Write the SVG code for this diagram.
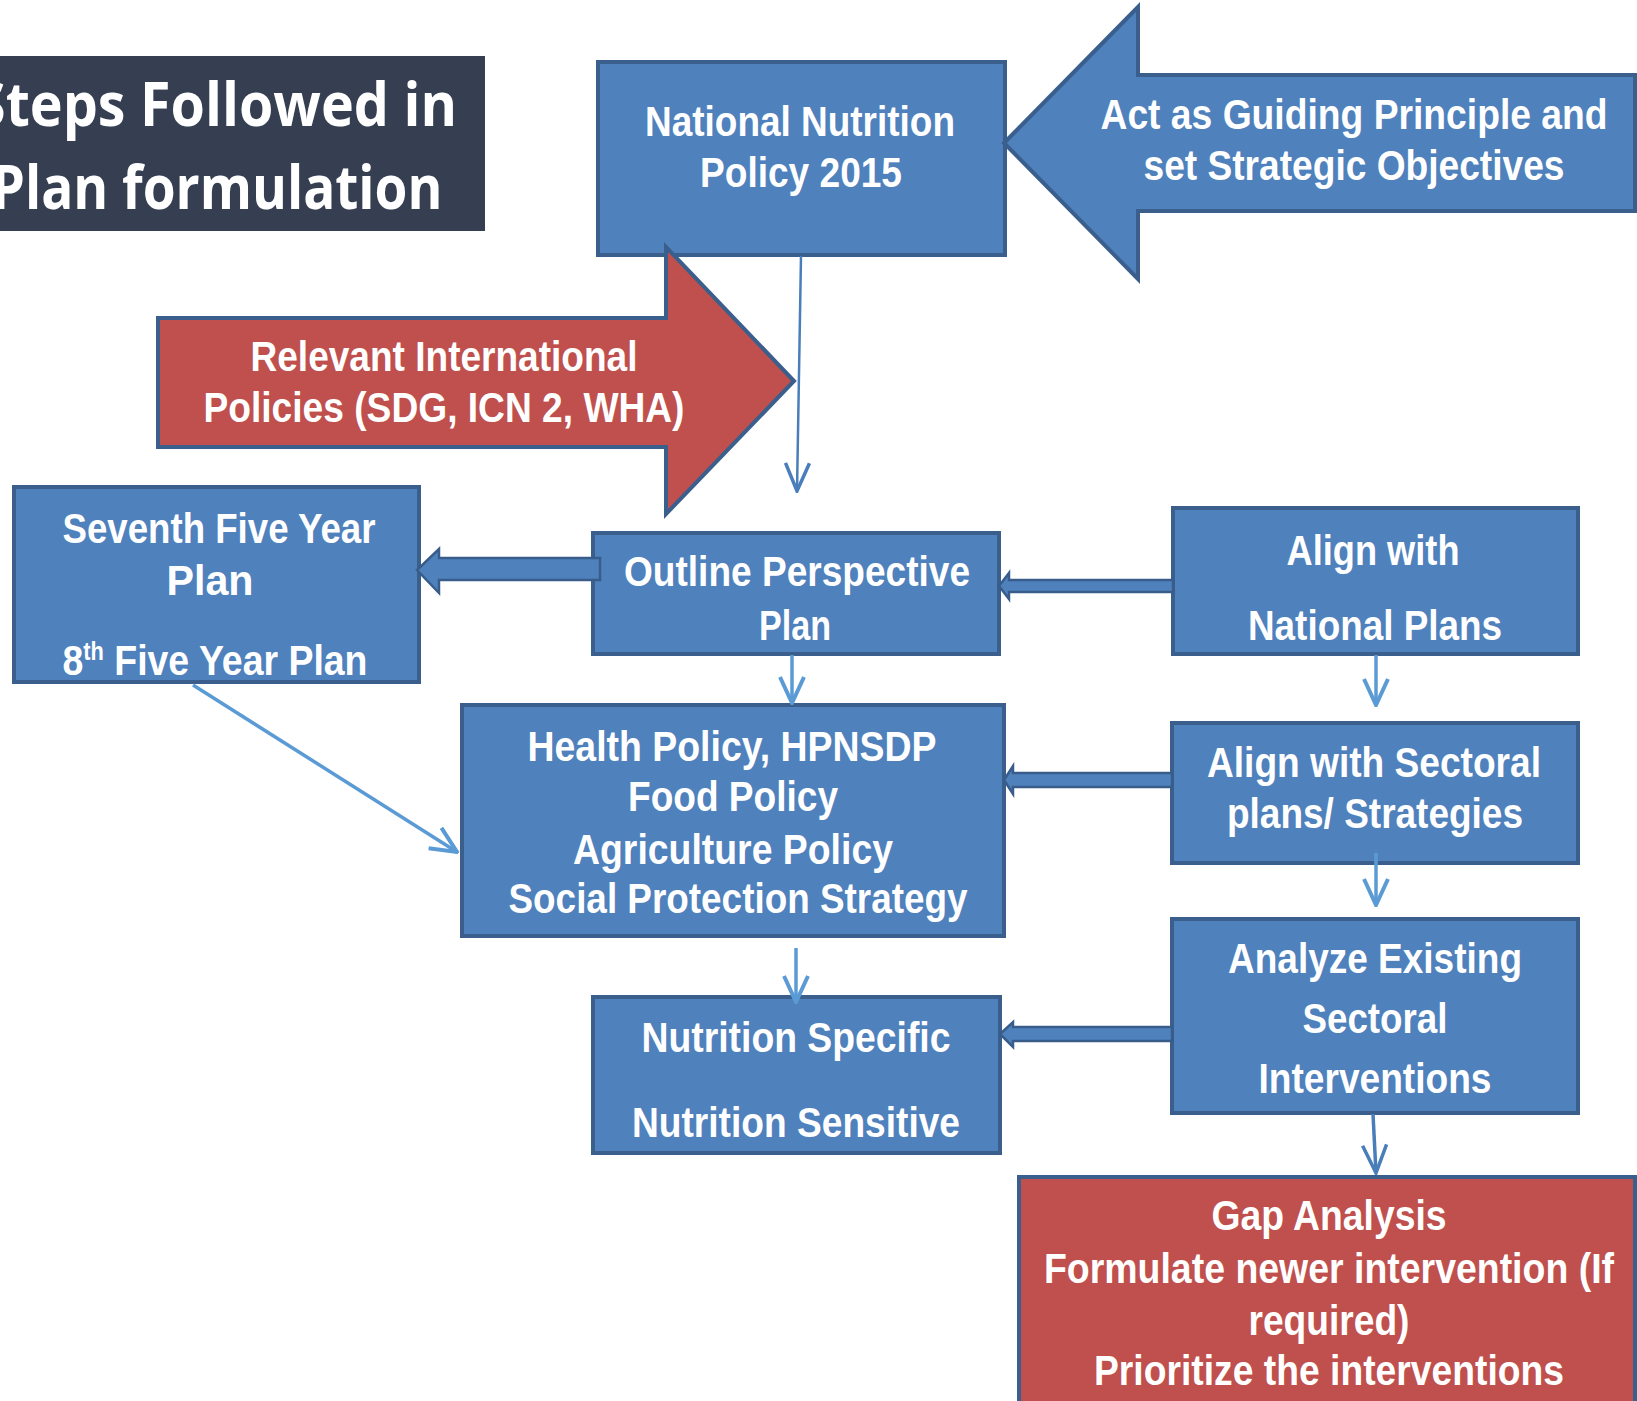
<svg xmlns="http://www.w3.org/2000/svg" width="1637" height="1401" viewBox="0 0 1637 1401">
<defs>
<style>
.box{fill:#4F81BD;stroke:#3A5F8D;stroke-width:4}
.red{fill:#C0504D;stroke:#3A5F8D;stroke-width:4}
.t{font-family:"Liberation Sans",Arial,sans-serif;font-weight:bold;font-size:43px;fill:#FFFFFF;text-anchor:middle}
.title{font-family:"Open Sans","Liberation Sans",sans-serif;font-weight:bold;font-size:60px;fill:#FFFFFF;text-anchor:middle}
.blk{fill:#4F81BD;stroke:#385D8A;stroke-width:2.5;stroke-linejoin:miter}
.ln{fill:none;stroke:#5B9BD5;stroke-width:3.5}
.ln2{fill:none;stroke:#4A7EBB;stroke-width:2.5}
</style>
<marker id="va" markerUnits="userSpaceOnUse" markerWidth="32" markerHeight="32" viewBox="-30 -16 32 32" refX="0" refY="0" orient="auto">
<path d="M-26,-12 L0,0 L-26,12" fill="none" stroke="#5B9BD5" stroke-width="4"/>
</marker>
<marker id="vb" markerUnits="userSpaceOnUse" markerWidth="32" markerHeight="32" viewBox="-30 -16 32 32" refX="0" refY="0" orient="auto">
<path d="M-28,-12 L0,0 L-28,12" fill="none" stroke="#4A7EBB" stroke-width="3.5"/>
</marker>
</defs>
<rect width="1637" height="1401" fill="#FFFFFF"/>

<g id="title">
<rect x="-5" y="56" width="490" height="175" fill="#353F51"/>
<text class="title" x="216" y="126" textLength="482" lengthAdjust="spacingAndGlyphs">Steps Followed in</text>
<text class="title" x="217" y="209" textLength="451" lengthAdjust="spacingAndGlyphs">Plan formulation</text>
</g>

<g id="node-nnp">
<rect class="box" x="598" y="62" width="407" height="193"/>
<text class="t" x="800" y="136" textLength="310" lengthAdjust="spacingAndGlyphs">National Nutrition</text>
<text class="t" x="801" y="187" textLength="202" lengthAdjust="spacingAndGlyphs">Policy 2015</text>
</g>

<g id="node-guiding">
<path class="box" d="M1004,143 L1138,7 L1138,75 L1635,75 L1635,211 L1138,211 L1138,279 Z"/>
<text class="t" x="1354" y="129" textLength="507" lengthAdjust="spacingAndGlyphs">Act as Guiding Principle and</text>
<text class="t" x="1354" y="180" textLength="421" lengthAdjust="spacingAndGlyphs">set Strategic Objectives</text>
</g>

<g id="node-international">
<path class="red" d="M158,318 L666,318 L666,247 L794,381 L666,514 L666,447 L158,447 Z"/>
<text class="t" x="444" y="371" textLength="387" lengthAdjust="spacingAndGlyphs">Relevant International</text>
<text class="t" x="444" y="422" textLength="481" lengthAdjust="spacingAndGlyphs">Policies (SDG, ICN 2, WHA)</text>
</g>

<g id="node-seventh">
<rect class="box" x="14" y="487" width="405" height="195"/>
<text class="t" x="219" y="543" textLength="313" lengthAdjust="spacingAndGlyphs">Seventh Five Year</text>
<text class="t" x="210" y="595" textLength="87" lengthAdjust="spacingAndGlyphs">Plan</text>
<text class="t" x="215" y="675" textLength="305" lengthAdjust="spacingAndGlyphs">8<tspan font-size="25" dy="-15">th</tspan><tspan dy="15"> Five Year Plan</tspan></text>
</g>

<g id="node-outline">
<rect class="box" x="593" y="533" width="406" height="121"/>
<text class="t" x="797" y="586" textLength="346" lengthAdjust="spacingAndGlyphs">Outline Perspective</text>
<text class="t" x="795" y="640" textLength="72" lengthAdjust="spacingAndGlyphs">Plan</text>
</g>

<g id="node-align-national">
<rect class="box" x="1173" y="508" width="405" height="146"/>
<text class="t" x="1373" y="565" textLength="173" lengthAdjust="spacingAndGlyphs">Align with</text>
<text class="t" x="1375" y="640" textLength="254" lengthAdjust="spacingAndGlyphs">National Plans</text>
</g>

<g id="node-health">
<rect class="box" x="462" y="705" width="542" height="231"/>
<text class="t" x="732" y="761" textLength="409" lengthAdjust="spacingAndGlyphs">Health Policy, HPNSDP</text>
<text class="t" x="733" y="811" textLength="210" lengthAdjust="spacingAndGlyphs">Food Policy</text>
<text class="t" x="733" y="864" textLength="320" lengthAdjust="spacingAndGlyphs">Agriculture Policy</text>
<text class="t" x="738" y="913" textLength="459" lengthAdjust="spacingAndGlyphs">Social Protection Strategy</text>
</g>

<g id="node-align-sectoral">
<rect class="box" x="1172" y="723" width="406" height="140"/>
<text class="t" x="1374" y="777" textLength="334" lengthAdjust="spacingAndGlyphs">Align with Sectoral</text>
<text class="t" x="1375" y="828" textLength="296" lengthAdjust="spacingAndGlyphs">plans/ Strategies</text>
</g>

<g id="node-analyze">
<rect class="box" x="1172" y="919" width="406" height="194"/>
<text class="t" x="1375" y="973" textLength="294" lengthAdjust="spacingAndGlyphs">Analyze Existing</text>
<text class="t" x="1375" y="1033" textLength="145" lengthAdjust="spacingAndGlyphs">Sectoral</text>
<text class="t" x="1375" y="1093" textLength="233" lengthAdjust="spacingAndGlyphs">Interventions</text>
</g>

<g id="node-nutrition">
<rect class="box" x="593" y="997" width="407" height="156"/>
<text class="t" x="796" y="1052" textLength="309" lengthAdjust="spacingAndGlyphs">Nutrition Specific</text>
<text class="t" x="796" y="1137" textLength="328" lengthAdjust="spacingAndGlyphs">Nutrition Sensitive</text>
</g>

<g id="node-gap">
<rect class="red" x="1019" y="1177" width="616" height="240"/>
<text class="t" x="1329" y="1230" textLength="235" lengthAdjust="spacingAndGlyphs">Gap Analysis</text>
<text class="t" x="1329" y="1283" textLength="570" lengthAdjust="spacingAndGlyphs">Formulate newer intervention (If</text>
<text class="t" x="1329" y="1335" textLength="161" lengthAdjust="spacingAndGlyphs">required)</text>
<text class="t" x="1329" y="1385" textLength="470" lengthAdjust="spacingAndGlyphs">Prioritize the interventions</text>
</g>

<g id="connectors">
<path class="ln2" d="M801,256 L797,491" marker-end="url(#vb)"/>
<path class="ln" d="M792,655 L792,703" marker-end="url(#va)"/>
<path class="ln" d="M1376,655 L1376,705" marker-end="url(#va)"/>
<path class="ln" d="M1376,853 L1376,905" marker-end="url(#va)"/>
<path class="ln" d="M796,948 L796,1002" marker-end="url(#va)"/>
<path class="ln2" d="M1373,1114 L1376,1173" marker-end="url(#vb)" style="stroke-width:3.5"/>
<path class="ln" d="M193,685 L457,852" marker-end="url(#va)"/>
<path class="blk" d="M600,558 L439,558 L439,549 L417,570 L439,593 L439,580 L600,580 Z"/>
<path class="blk" d="M1173,580 L1009,580 L1009,573 L999,586 L1009,599 L1009,592 L1173,592 Z"/>
<path class="blk" d="M1172,773 L1013,773 L1013,766 L1004,780 L1013,794 L1013,787 L1172,787 Z"/>
<path class="blk" d="M1172,1027 L1013,1027 L1013,1022 L1000,1034 L1013,1047 L1013,1041 L1172,1041 Z"/>
</g>
</svg>
